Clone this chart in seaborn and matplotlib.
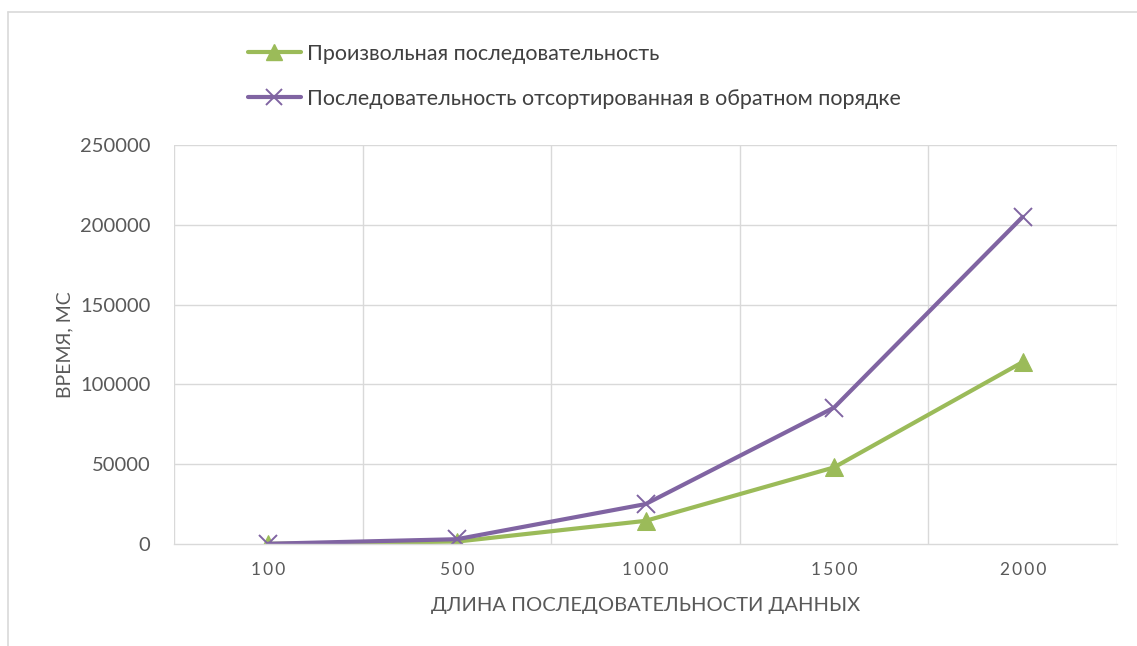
import matplotlib
matplotlib.use("Agg")
import matplotlib.pyplot as plt
from matplotlib.lines import Line2D
import seaborn as sns
import pandas as pd
import numpy as np

# Data
lengths = ["100", "500", "1000", "1500", "2000"]
random_seq = [100, 1500, 14500, 48000, 114000]
reverse_sorted = [150, 3000, 25000, 85500, 205000]
series_names = ["Произвольная последовательность",
                "Последовательность отсортированная в обратном порядке"]
y_ticks = [0, 50000, 100000, 150000, 200000, 250000]

GREEN = "#9BBB59"
PURPLE = "#8064A2"
GRID = "#D9D9D9"
TEXT = "#595959"

sns.set_theme(style="white")
plt.rcParams["font.family"] = ["Lato", "DejaVu Sans"]

df = pd.DataFrame({
    "pos": list(range(len(lengths))) * 2,
    "value": random_seq + reverse_sorted,
    "series": [series_names[0]] * len(lengths) + [series_names[1]] * len(lengths),
})

fig = plt.figure(figsize=(11.37, 6.46), dpi=100)
ax = fig.add_axes([174 / 1137, 1 - 544 / 646, (1117 - 174) / 1137, (544 - 145) / 646])

LW = 3.0
sns.lineplot(data=df[df.series == series_names[0]], x="pos", y="value", ax=ax,
             color=GREEN, linewidth=LW, marker="^", markersize=13,
             markeredgecolor=GREEN, legend=False)
sns.lineplot(data=df[df.series == series_names[1]], x="pos", y="value", ax=ax,
             color=PURPLE, linewidth=LW, marker="x", markersize=13,
             markeredgewidth=1.4, markeredgecolor=PURPLE, legend=False)

ax.set_xlim(-0.5, len(lengths) - 0.5)
ax.set_ylim(0, 250000)
ax.set_yticks(y_ticks)
ax.set_yticklabels([str(v) for v in y_ticks], fontsize=14.5, color=TEXT)
ax.set_xticks(range(len(lengths)))
ax.set_xticklabels(["\u2009".join(l) for l in lengths], fontsize=12.5, color=TEXT)

ax.grid(False)
for v in y_ticks[1:]:
    ax.axhline(v, color=GRID, linewidth=1.0, zorder=0)
for v in np.arange(-0.5, len(lengths), 1.0):
    ax.axvline(v, color=GRID, linewidth=1.0, zorder=0)

for s in ["top", "right", "left"]:
    ax.spines[s].set_visible(False)
ax.spines["bottom"].set_color(GRID)
ax.spines["bottom"].set_linewidth(1.0)
ax.tick_params(axis="both", which="both", length=0)
ax.tick_params(axis="y", pad=17)
ax.tick_params(axis="x", pad=13)

ax.set_xlabel("ДЛИНА ПОСЛЕДОВАТЕЛЬНОСТИ ДАННЫХ", fontsize=14.5, color=TEXT, labelpad=14)
ax.set_ylabel("ВРЕМЯ, МС", fontsize=14, color=TEXT, labelpad=5)

handles = [
    Line2D([], [], color=GREEN, linewidth=LW, marker="^", markersize=11,
           markeredgecolor=GREEN),
    Line2D([], [], color=PURPLE, linewidth=LW, marker="x", markersize=11,
           markeredgewidth=1.4, markeredgecolor=PURPLE),
]
leg = fig.legend(handles, series_names, loc="upper left",
                 bbox_to_anchor=(248 / 1137, 1 - 44 / 646),
                 frameon=False, fontsize=15.5, handlelength=2.45,
                 handletextpad=0.3, labelspacing=1.15, borderpad=0,
                 borderaxespad=0)
for t in leg.get_texts():
    t.set_color("#404040")

# Chart frame (top and left edges)
fig.add_artist(Line2D([8 / 1137, 8 / 1137], [0, 1 - 12 / 646],
                      transform=fig.transFigure, color=GRID, linewidth=1.2))
fig.add_artist(Line2D([8 / 1137, 1], [1 - 12 / 646, 1 - 12 / 646],
                      transform=fig.transFigure, color=GRID, linewidth=1.2))

fig.savefig("out.png", dpi=100)
